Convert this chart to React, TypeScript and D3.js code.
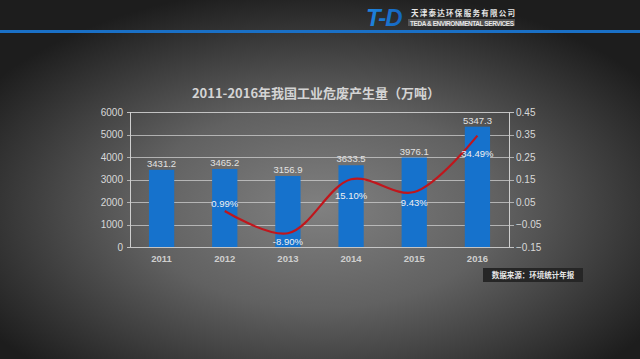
import React from 'react';
import * as d3 from 'd3';

// 数据
const years = ['2011', '2012', '2013', '2014', '2015', '2016'];
const amounts = [3431.2, 3465.2, 3156.9, 3633.5, 3976.1, 5347.3];
const growthYears = ['2012', '2013', '2014', '2015', '2016'];
const growth = [0.0099, -0.089, 0.151, 0.0943, 0.3449];
const growthLabels = ['0.99%', '-8.90%', '15.10%', '9.43%', '34.49%'];
const leftTicks = [0, 1000, 2000, 3000, 4000, 5000, 6000];
const rightTicks = [-0.15, -0.05, 0.05, 0.15, 0.25, 0.35, 0.45];

// 百分比标签相对折线点的纵向偏移
const pctDy = [-4, 12, 20, 14, 21];

const W = 640, H = 359;
const margin = { top: 112, right: 131, bottom: 112, left: 130 };
const FONT = '"Liberation Sans", Arial, sans-serif';
const CJK = '"Noto Sans CJK SC", sans-serif';

export default function App() {
  const x = d3.scaleBand<string>()
    .domain(years)
    .range([margin.left, W - margin.right])
    .paddingInner(0.6)
    .paddingOuter(0.3);
  const y = d3.scaleLinear().domain([0, 6000]).range([H - margin.bottom, margin.top]);
  const y2 = d3.scaleLinear().domain([-0.15, 0.45]).range([H - margin.bottom, margin.top]);

  const cx = (d: string) => (x(d) as number) + x.bandwidth() / 2;
  const pts: [number, number][] = growthYears.map((d, i) => [cx(d), y2(growth[i])]);
  const line = d3.line().curve(d3.curveCatmullRom.alpha(0.5))(pts) || '';

  const x0 = margin.left, x1 = W - margin.right;
  const yb = H - margin.bottom;

  return (
    <svg width={W} height={H} style={{ position: 'absolute', left: 0, top: 0, display: 'block' }}>
      <defs>
        <radialGradient id="bg" cx="50%" cy="58%" r="62%" fx="50%" fy="58%">
          <stop offset="0%" stopColor="#808080" />
          <stop offset="45%" stopColor="#616161" />
          <stop offset="100%" stopColor="#1d1d1d" />
        </radialGradient>
        <linearGradient id="logo" x1="0" x2="1">
          <stop offset="0%" stopColor="#1f86e0" />
          <stop offset="100%" stopColor="#1566c0" />
        </linearGradient>
      </defs>
      <rect width={W} height={H} fill="url(#bg)" />

      {/* 顶部标志与蓝线 */}
      <rect x={0} y={30} width={W} height={3} fill="#1a70c6" />
      <text x={366} y={26} fontFamily={FONT} fontWeight="bold" fontStyle="italic" fontSize={24}
        fill="url(#logo)" letterSpacing={-1}>T-D</text>
      <text x={411} y={16} fontFamily={CJK} fontWeight="bold" fontSize={7.5} fill="#e6e6e6"
        textLength={104}>天津泰达环保服务有限公司</text>
      <rect x={408} y={19} width={107} height={7} fill="#d0d0d0" opacity={0.25} />
      <text x={410} y={25.5} fontFamily={FONT} fontWeight="bold" fontSize={6.5} fill="#e6e6e6"
        textLength={104}>TEDA &amp; ENVIRONMENTAL SERVICES</text>

      {/* 标题 */}
      <text x={316} y={98} textAnchor="middle" fontFamily={CJK} fontWeight="bold" fontSize={13}
        fill="#d4d4d4">2011-2016年我国工业危废产生量（万吨）</text>

      {/* 网格与坐标轴 */}
      <g stroke="#cfcfcf" strokeWidth={1} shapeRendering="crispEdges">
        {leftTicks.map(t => (
          <line key={t} x1={x0 - 3} x2={x1 + 5} y1={Math.round(y(t)) + 0.5} y2={Math.round(y(t)) + 0.5}
            strokeOpacity={t === 0 || t === 6000 ? 0.9 : 0.75} />
        ))}
        <line x1={x0 + 0.5} x2={x0 + 0.5} y1={margin.top} y2={yb} />
        <line x1={x1 + 0.5} x2={x1 + 0.5} y1={margin.top} y2={yb} />
      </g>
      <g fontFamily={FONT} fontSize={10} fill="#d8d8d8">
        {leftTicks.map(t => (
          <text key={t} x={x0 - 7} y={y(t) + 3.5} textAnchor="end">{t}</text>
        ))}
        {rightTicks.map(t => (
          <text key={t} x={x1 + 7} y={y2(t) + 3.5}>{d3.format('.2f')(t)}</text>
        ))}
      </g>

      {/* 柱形 */}
      <g fill="#1672cc">
        {years.map((d, i) => (
          <rect key={d} x={x(d)} y={y(amounts[i])} width={x.bandwidth()} height={yb - y(amounts[i])} />
        ))}
      </g>
      <g fontFamily={FONT} fontSize={9.5} fill="#e2e2e2" textAnchor="middle">
        {years.map((d, i) => (
          <text key={d} x={cx(d)} y={y(amounts[i]) - 3}>{amounts[i].toFixed(1)}</text>
        ))}
      </g>

      {/* 增长率折线 */}
      <path d={line} fill="none" stroke="#c0161c" strokeWidth={2.2} />
      <g fontFamily={FONT} fontSize={9.5} fill="#f0f0f0" textAnchor="middle">
        {growthYears.map((d, i) => (
          <text key={d} x={cx(d)} y={y2(growth[i]) + pctDy[i]}>{growthLabels[i]}</text>
        ))}
      </g>

      {/* 横轴标签 */}
      <g fontFamily={FONT} fontSize={9.5} fontWeight="bold" fill="#cfcfcf" textAnchor="middle">
        {years.map(d => (
          <text key={d} x={cx(d)} y={yb + 15}>{d}</text>
        ))}
      </g>

      {/* 数据来源 */}
      <rect x={483} y={268} width={100} height={14} fill="#262626" />
      <text x={533} y={278} textAnchor="middle" fontFamily={CJK} fontSize={7.5} fontWeight="bold"
        fill="#e8e8e8">数据来源：环境统计年报</text>
    </svg>
  );
}
